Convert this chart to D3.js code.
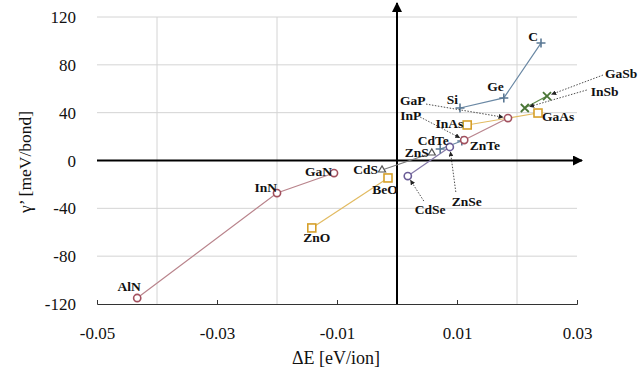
<!DOCTYPE html>
<html>
<head>
<meta charset="utf-8">
<script src="https://cdn.jsdelivr.net/npm/d3@7"></script>
<style>
  body { margin: 0; background: #fff; }
  svg text { font-family: "Liberation Serif", "Times New Roman", Times, serif; }
</style>
</head>
<body>
<svg id="chart" width="639" height="374"></svg>
<script>
// data: [name, dE (eV/ion), gamma' (meV/bond)]
var groupIV     = [["Si", 0.0105, 43.9], ["Ge", 0.0178, 52.3], ["C", 0.024, 98.2]];
var tellurides  = [["CdTe", 0.0072, 9.6], ["ZnTe", 0.0108, 16.3]];
var nitrides    = [["AlN", -0.0433, -115], ["InN", -0.02, -27.2], ["GaN", -0.0105, -10.5]];
var phosphides  = [["InP", 0.0112, 17.1], ["GaP", 0.0185, 35.5]];
var oxides      = [["ZnO", -0.0142, -56.4], ["BeO", -0.0015, -14.6]];
var arsenides   = [["InAs", 0.0117, 29.7], ["GaAs", 0.0235, 39.7]];
var antimonides = [["InSb", 0.0213, 43.9], ["GaSb", 0.025, 53.9]];
var sulfides    = [["CdS", -0.0025, -7.9], ["ZnS", 0.0058, 6.3]];
var selenides   = [["CdSe", 0.0018, -13], ["ZnSe", 0.0088, 11.3]];

var xTicks = [-0.05, -0.03, -0.01, 0.01, 0.03];
var yTicks = [-120, -80, -40, 0, 40, 80, 120];
var xGrid = [-0.04, -0.02, 0.02];
var yGrid = [-80, -40, 40, 80, 120];

var FONT = '"Liberation Serif", "Times New Roman", Times, serif';

var svg = d3.select('#chart');
var x = d3.scaleLinear().domain([-0.05, 0.03]).range([97, 577]);
var y = d3.scaleLinear().domain([-120, 120]).range([304, 17]);

// grid
svg.append('g').selectAll('line').data(yGrid).join('line')
    .attr('x1', 97).attr('x2', 577)
    .attr('y1', d => y(d)).attr('y2', d => y(d))
    .attr('stroke', '#d4d4d4').attr('stroke-width', 1);
svg.append('g').selectAll('line').data(xGrid).join('line')
    .attr('x1', d => x(d)).attr('x2', d => x(d))
    .attr('y1', y(120)).attr('y2', y(-120))
    .attr('stroke', '#d4d4d4').attr('stroke-width', 1);

// bottom axis
var xAxis = d3.axisBottom(x).tickValues(xTicks).tickSize(-4)
    .tickFormat(d => d3.format('.2f')(d).replace('−', '-'));
svg.append('g').attr('transform', 'translate(0,' + y(-120) + ')').call(xAxis)
    .attr('font-family', FONT)
    .call(g => g.select('.domain').attr('stroke', '#333'))
    .call(g => g.selectAll('.tick line').attr('stroke', '#333'))
    .call(g => g.selectAll('.tick text').attr('font-size', 17).attr('fill', '#111')
        .attr('y', 0).attr('dy', 35));

// left tick labels
svg.append('g').selectAll('text').data(yTicks).join('text')
    .attr('x', 76).attr('y', d => y(d) + 6)
    .attr('text-anchor', 'end').attr('font-size', 17).attr('fill', '#111')
    .attr('font-family', FONT)
    .text(d => d);

// axis titles
svg.append('text').attr('x', 336).attr('y', 364).attr('text-anchor', 'middle')
    .attr('font-family', FONT)
    .attr('font-size', 18).attr('fill', '#111').text('ΔE [eV/ion]');
svg.append('text').attr('transform', 'translate(31,162) rotate(-90)')
    .attr('font-family', FONT)
    .attr('text-anchor', 'middle').attr('font-size', 17.5).attr('fill', '#111')
    .text('γ’ [meV/bond]');

// arrow markers
var defs = svg.append('defs');
defs.append('marker').attr('id', 'big').attr('viewBox', '0 0 10 10')
    .attr('refX', 9).attr('refY', 5).attr('markerWidth', 5.5).attr('markerHeight', 5)
    .attr('markerUnits', 'strokeWidth').attr('orient', 'auto')
    .append('path').attr('d', 'M0,0L10,5L0,10z').attr('fill', '#000');
defs.append('marker').attr('id', 'small').attr('viewBox', '0 0 10 10')
    .attr('refX', 9).attr('refY', 5).attr('markerWidth', 5).attr('markerHeight', 5)
    .attr('markerUnits', 'userSpaceOnUse').attr('orient', 'auto')
    .append('path').attr('d', 'M0,0L10,5L0,10z').attr('fill', '#222');

// central axes with arrows
svg.append('line').attr('x1', 97).attr('x2', 582).attr('y1', y(0)).attr('y2', y(0))
    .attr('stroke', '#000').attr('stroke-width', 2).attr('marker-end', 'url(#big)');
svg.append('line').attr('x1', x(0)).attr('x2', x(0)).attr('y1', y(-120)).attr('y2', 3)
    .attr('stroke', '#000').attr('stroke-width', 2).attr('marker-end', 'url(#big)');

// series
var series = [
    {d: groupIV, line: '#6a88a4', mark: '#5a7894', shape: 'plus'},
    {d: tellurides, line: '#6a88a4', mark: '#5a7894', shape: 'plus'},
    {d: nitrides, line: '#b9848c', mark: '#a2505e', shape: 'circle'},
    {d: phosphides, line: '#b9848c', mark: '#a2505e', shape: 'circle'},
    {d: oxides, line: '#e2bb62', mark: '#d6a02a', shape: 'square'},
    {d: arsenides, line: '#e2bb62', mark: '#d6a02a', shape: 'square'},
    {d: antimonides, line: '#5e8a48', mark: '#4a7636', shape: 'cross'},
    {d: sulfides, line: '#7a7a7a', mark: '#555', shape: 'triangle'},
    {d: selenides, line: '#8478a8', mark: '#6a5c96', shape: 'circle'}
];
var lineGen = d3.line().x(d => x(d[1])).y(d => y(d[2]));

series.forEach(function (s) {
    svg.append('path').datum(s.d).attr('d', lineGen)
        .attr('fill', 'none').attr('stroke', s.line).attr('stroke-width', 1.2);
});
series.forEach(function (s) {
    var g = svg.append('g');
    s.d.forEach(function (p) {
        var px = x(p[1]), py = y(p[2]);
        if (s.shape === 'circle') {
            g.append('circle').attr('cx', px).attr('cy', py).attr('r', 3.6)
                .attr('fill', '#fff').attr('stroke', s.mark).attr('stroke-width', 1.6);
        } else if (s.shape === 'square') {
            g.append('rect').attr('x', px - 4).attr('y', py - 4).attr('width', 8).attr('height', 8)
                .attr('fill', '#fff').attr('stroke', s.mark).attr('stroke-width', 1.6);
        } else if (s.shape === 'plus') {
            g.append('path')
                .attr('d', 'M' + (px - 4.5) + ',' + py + 'h9M' + px + ',' + (py - 4.5) + 'v9')
                .attr('stroke', s.mark).attr('stroke-width', 1.6);
        } else if (s.shape === 'cross') {
            g.append('path')
                .attr('d', 'M' + (px - 4) + ',' + (py - 4) + 'l8,8M' + (px - 4) + ',' + (py + 4) + 'l8,-8')
                .attr('stroke', s.mark).attr('stroke-width', 1.8);
        } else if (s.shape === 'triangle') {
            g.append('path').attr('transform', 'translate(' + px + ',' + py + ')')
                .attr('d', d3.symbol(d3.symbolTriangle, 22)())
                .attr('fill', '#fff').attr('stroke', s.mark).attr('stroke-width', 1.2);
        }
    });
});

// label placement (pixel offsets from the point) and optional leader start
var labelPos = {
    C: [-3, -2, 'end'], Ge: [0, -7, 'end'], Si: [-2, -4, 'end'],
    GaP: [-108, -13, 'start', [-82, -14]], InP: [-64, -20, 'start', [-44, -23]],
    InAs: [-4, 3, 'end'], GaAs: [4, 8, 'start'],
    GaSb: [58, -18, 'start', [56, -21]], InSb: [66, -12, 'start', [62, -18]],
    CdTe: [-7, -4, 'middle'], ZnTe: [8, 9, 'start'], ZnS: [-3, 4, 'end'],
    CdS: [-4, 4, 'end'], BeO: [-3, 16, 'middle'], GaN: [-2, 3, 'end'],
    InN: [0, -1, 'end'], ZnO: [5, 14, 'middle'], AlN: [-8, -7, 'middle'],
    CdSe: [7, 38, 'start', [16, 25]], ZnSe: [2, 59, 'start', [6, 45]]
};

var allPts = [].concat(groupIV, tellurides, nitrides, phosphides, oxides,
    arsenides, antimonides, sulfides, selenides);
var lab = svg.append('g');
allPts.forEach(function (p) {
    var lp = labelPos[p[0]];
    var px = x(p[1]), py = y(p[2]);
    if (lp[3]) {
        var ang = Math.atan2(lp[3][1], lp[3][0]);
        lab.append('line')
            .attr('x1', px + lp[3][0]).attr('y1', py + lp[3][1])
            .attr('x2', px + 5 * Math.cos(ang)).attr('y2', py + 5 * Math.sin(ang))
            .attr('stroke', '#222').attr('stroke-width', 0.8)
            .attr('stroke-dasharray', '1.5,1.5').attr('marker-end', 'url(#small)');
    }
    lab.append('text').attr('x', px + lp[0]).attr('y', py + lp[1])
        .attr('font-family', FONT)
        .attr('text-anchor', lp[2]).attr('font-size', 13.5).attr('font-weight', 'bold')
        .attr('fill', '#111').text(p[0]);
});
</script>
</body>
</html>
